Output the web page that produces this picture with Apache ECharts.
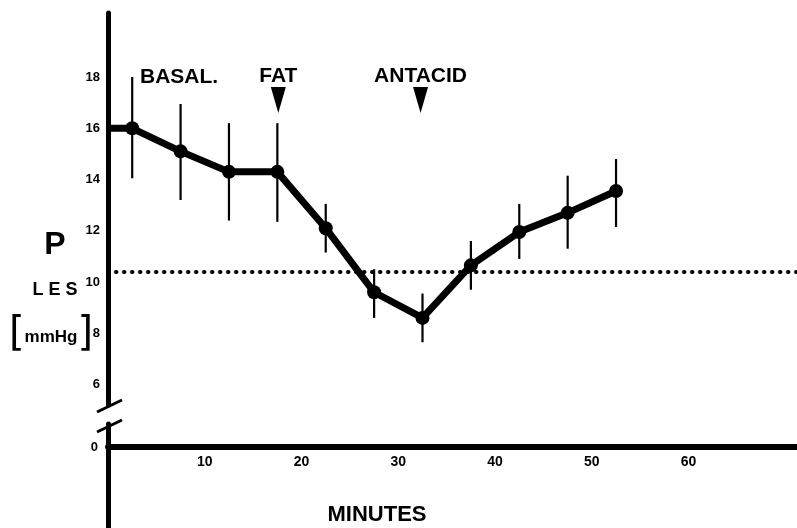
<!DOCTYPE html>
<html>
<head>
<meta charset="utf-8">
<script src="https://cdn.jsdelivr.net/npm/echarts@6/dist/echarts.min.js"></script>
<style>
  html, body { margin: 0; padding: 0; background: #fff; }
  #chart { width: 797px; height: 528px; }
</style>
</head>
<body>
<div id="chart"></div>
<script>
// sampling times (minutes) and LES pressure (mmHg): mean with error bar ends
const minutes = [2.5, 7.5, 12.5, 17.5, 22.5, 27.5, 32.5, 37.5, 42.5, 47.5, 52.5];
const means = [16.0, 15.1, 14.3, 14.3, 12.1, 9.6, 8.6, 10.65, 11.95, 12.7, 13.55];
const lows = [14.05, 13.2, 12.4, 12.35, 11.15, 8.6, 7.65, 9.7, 10.9, 11.3, 12.15];
const highs = [18.0, 16.95, 16.2, 16.2, 13.05, 10.5, 9.55, 11.6, 13.05, 14.15, 14.8];
const normalLevel = 10.4;

// events marked with arrows
const eventNames = ['FAT', 'ANTACID'];
const eventMinutes = [17.6, 32.3];
const eventLevels = [17.1, 17.1];

const yTicks = [6, 8, 10, 12, 14, 16, 18];
const xTicks = [10, 20, 30, 40, 50, 60];

const font = 'Liberation Sans';
const chart = echarts.init(document.getElementById('chart'));

// the line starts on the axis at the first basal value
const lineData = [{ value: [0, means[0]], symbol: 'none' }]
  .concat(minutes.map((m, i) => [m, means[i]]));

const blackAxis = w => ({ show: true, onZero: false, lineStyle: { color: '#000', width: w } });
const labelStyle = { color: '#000', fontWeight: 'bold', fontFamily: font };

const option = {
  animation: false,
  backgroundColor: '#fff',
  textStyle: { fontFamily: font },
  grid: [
    { left: 108, right: 0, top: 13, height: 392 },   // 6..18 part
    { left: 108, right: 0, top: 424, height: 23 },   // 0 part with the time axis
    { left: 108, right: 0, top: 447, bottom: 0 }     // axis stub under the time axis
  ],
  xAxis: [
    { gridIndex: 0, type: 'value', min: 0, max: 71.2, show: false },
    {
      gridIndex: 1, type: 'value', min: 0, max: 71.2,
      axisLine: blackAxis(6),
      axisTick: { show: false },
      splitLine: { show: false },
      axisLabel: Object.assign({ customValues: xTicks, margin: 8, fontSize: 14 }, labelStyle)
    },
    { gridIndex: 2, type: 'value', min: 0, max: 71.2, show: false }
  ],
  yAxis: [
    {
      gridIndex: 0, type: 'value', min: 5.2, max: 20.5,
      axisLine: blackAxis(5),
      axisTick: { show: false },
      splitLine: { show: false },
      axisLabel: Object.assign({ customValues: yTicks, margin: 8, fontSize: 13 }, labelStyle)
    },
    {
      gridIndex: 1, type: 'value', min: 0, max: 0.9,
      axisLine: blackAxis(5),
      axisTick: { show: false },
      splitLine: { show: false },
      axisLabel: Object.assign({ customValues: [0], margin: 10, fontSize: 13 }, labelStyle)
    },
    {
      gridIndex: 2, type: 'value', min: 0, max: 1,
      axisLine: blackAxis(5),
      axisTick: { show: false },
      splitLine: { show: false },
      axisLabel: { show: false }
    }
  ],
  series: [
    {
      type: 'custom',
      xAxisIndex: 0, yAxisIndex: 0,
      data: minutes.map((m, i) => [m, lows[i], highs[i]]),
      encode: { x: 0, y: [1, 2] },
      renderItem: (params, api) => {
        const a = api.coord([api.value(0), api.value(1)]);
        const b = api.coord([api.value(0), api.value(2)]);
        return {
          type: 'line',
          shape: { x1: a[0], y1: a[1], x2: b[0], y2: b[1] },
          style: { stroke: '#000', lineWidth: 2.2 }
        };
      },
      z: 3
    },
    {
      type: 'line',
      xAxisIndex: 0, yAxisIndex: 0,
      data: lineData,
      symbol: 'circle',
      symbolSize: 14,
      itemStyle: { color: '#000' },
      lineStyle: { color: '#000', width: 7, join: 'round' },
      markLine: {
        silent: true,
        symbol: 'none',
        label: { show: false },
        lineStyle: { color: '#000', width: 4, type: [0.5, 7.5], cap: 'round' },
        data: [{ yAxis: normalLevel }]
      },
      z: 4
    },
    {
      type: 'scatter',
      xAxisIndex: 0, yAxisIndex: 0,
      data: eventNames.map((n, i) => [eventMinutes[i], eventLevels[i], n]),
      symbol: 'triangle',
      symbolRotate: 180,
      symbolSize: [15, 26],
      itemStyle: { color: '#000', opacity: 1 },
      label: Object.assign({
        show: true, position: 'top', distance: 0,
        formatter: p => p.value[2], fontSize: 21
      }, labelStyle),
      z: 5
    }
  ],
  graphic: [
    {
      type: 'text', left: 140, top: 67,
      style: { text: 'BASAL.', fill: '#000', font: 'bold 21px "Liberation Sans"' }
    },
    {
      type: 'text', x: 55, y: 245,
      style: { text: 'P', fill: '#000', font: 'bold 32px "Liberation Sans"', align: 'center', verticalAlign: 'middle' }
    },
    {
      type: 'text', x: 55, y: 290,
      style: { text: 'L E S', fill: '#000', font: 'bold 18px "Liberation Sans"', align: 'center', verticalAlign: 'middle' }
    },
    {
      type: 'text', x: 51, y: 337,
      style: {
        text: '{b|[}{m|mmHg}{b|]}',
        align: 'center', verticalAlign: 'middle',
        rich: {
          b: { fontSize: 40, fontFamily: 'DejaVu Sans', fontWeight: 'normal', fill: '#000', padding: [0, 0, 4, 0] },
          m: { fontSize: 17, fontFamily: font, fontWeight: 'bold', fill: '#000' }
        }
      }
    },
    {
      type: 'text', x: 377, y: 515,
      style: { text: 'MINUTES', fill: '#000', font: 'bold 22px "Liberation Sans"', align: 'center', verticalAlign: 'middle' }
    },
    // axis break marks
    {
      type: 'line', shape: { x1: 97, y1: 412, x2: 122, y2: 400 },
      style: { stroke: '#000', lineWidth: 3 }
    },
    {
      type: 'line', shape: { x1: 97, y1: 432, x2: 122, y2: 420 },
      style: { stroke: '#000', lineWidth: 3 }
    }
  ]
};

chart.setOption(option);
</script>
</body>
</html>
